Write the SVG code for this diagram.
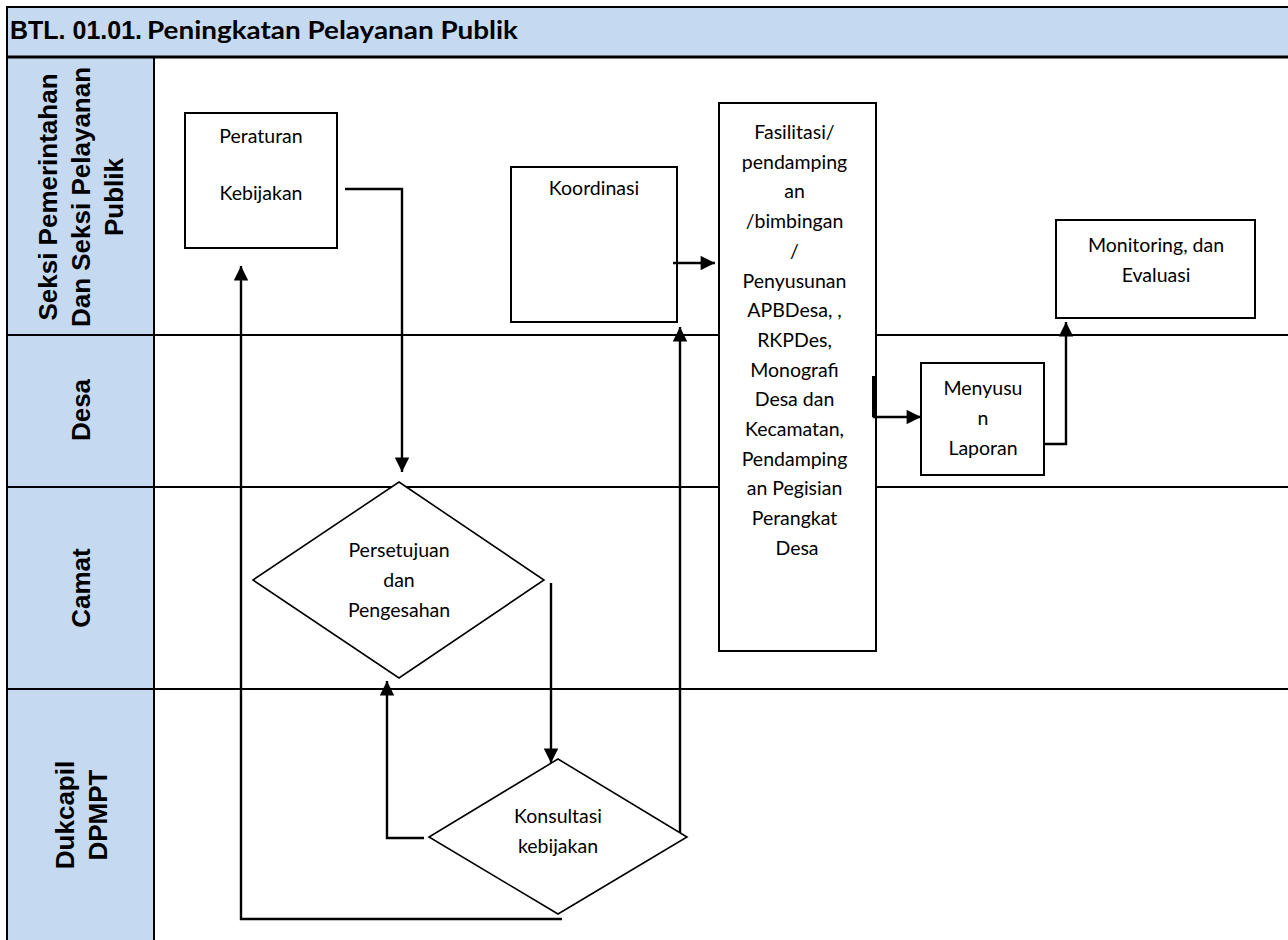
<svg xmlns="http://www.w3.org/2000/svg" width="1288" height="940" viewBox="0 0 1288 940">
<style>
.lane{font-family:"Liberation Sans",Arial,sans-serif;font-weight:bold;font-size:26px;fill:#000;text-anchor:middle}
.node{font-family:Lato,"Liberation Sans",sans-serif;font-size:19.5px;fill:#000;text-anchor:middle}
.box{fill:#fff;stroke:#000;stroke-width:2}
.dia{fill:#fff;stroke:#000;stroke-width:1.6}
.grid{stroke:#000;stroke-width:2;fill:none}
.conn{fill:none;stroke:#000;stroke-width:2.4}
</style>
<defs>
<marker id="arr" viewBox="0 0 10 10" refX="10" refY="5" markerWidth="6.5" markerHeight="6" markerUnits="strokeWidth" orient="auto">
<path d="M0,0 L10,5 L0,10 Z" fill="#000"/>
</marker>
</defs>
<rect x="0" y="0" width="1288" height="940" fill="#fff"/>
<g id="frame">
<rect x="7" y="7" width="1281" height="50" fill="#c5d9f0"/>
<rect x="7" y="57" width="147" height="883" fill="#c5d9f0"/>
<line class="grid" x1="6" y1="7" x2="1288" y2="7"/>
<line x1="6" y1="57" x2="1288" y2="57" stroke="#000" stroke-width="3"/>
<line class="grid" x1="7" y1="6" x2="7" y2="940"/>
<line class="grid" x1="154" y1="57" x2="154" y2="940"/>
<line class="grid" x1="7" y1="335" x2="1288" y2="335"/>
<line class="grid" x1="7" y1="487" x2="1288" y2="487"/>
<line class="grid" x1="7" y1="689" x2="1288" y2="689"/>
<text y="39" font-weight="bold"><tspan x="10" font-family="Liberation Sans, Arial, sans-serif" font-size="25px">BTL. 01.01.</tspan><tspan x="147" font-family="Lato, Liberation Sans, sans-serif" font-size="25px" textLength="371" lengthAdjust="spacingAndGlyphs">Peningkatan Pelayanan Publik</tspan></text>
</g>
<g id="lane-seksi">
<text class="lane" transform="translate(81,197) rotate(-90)"><tspan x="0" y="-24">Seksi Pemerintahan</tspan><tspan x="0" y="9">Dan Seksi Pelayanan</tspan><tspan x="0" y="42">Publik</tspan></text>
</g>
<g id="lane-desa">
<text class="lane" transform="translate(81,410) rotate(-90)"><tspan x="0" y="9">Desa</tspan></text>
</g>
<g id="lane-camat">
<text class="lane" transform="translate(81,588) rotate(-90)"><tspan x="0" y="9">Camat</tspan></text>
</g>
<g id="lane-dukcapil">
<text class="lane" transform="translate(81,815) rotate(-90)"><tspan x="0" y="-7">Dukcapil</tspan><tspan x="0" y="26">DPMPT</tspan></text>
</g>
<g id="peraturan">
<rect class="box" x="185" y="113" width="152" height="135"/>
<text class="node"><tspan x="261" y="143">Peraturan</tspan><tspan x="261" y="200">Kebijakan</tspan></text>
</g>
<g id="koordinasi">
<rect class="box" x="511" y="167" width="166" height="155"/>
<text class="node" x="594" y="195">Koordinasi</text>
</g>
<g id="fasilitasi">
<rect class="box" x="719" y="103" width="157" height="548"/>
<text class="node">
<tspan x="797" y="139">Fasilitasi/</tspan>
<tspan x="797" y="168.7">pendamping</tspan>
<tspan x="797" y="198.4">an</tspan>
<tspan x="797" y="228.1">/bimbingan</tspan>
<tspan x="797" y="257.8">/</tspan>
<tspan x="797" y="287.5">Penyusunan</tspan>
<tspan x="797" y="317.2">APBDesa, ,</tspan>
<tspan x="797" y="346.9">RKPDes,</tspan>
<tspan x="797" y="376.6">Monografi</tspan>
<tspan x="797" y="406.3">Desa dan</tspan>
<tspan x="797" y="436">Kecamatan,</tspan>
<tspan x="797" y="465.7">Pendamping</tspan>
<tspan x="797" y="495.4">an Pegisian</tspan>
<tspan x="797" y="525.1">Perangkat</tspan>
<tspan x="797" y="554.8">Desa</tspan>
</text>
</g>
<g id="menyusun">
<rect class="box" x="921" y="363" width="123" height="112"/>
<text class="node"><tspan x="983" y="395">Menyusu</tspan><tspan x="983" y="425">n</tspan><tspan x="983" y="455">Laporan</tspan></text>
</g>
<g id="monitoring">
<rect class="box" x="1056" y="220" width="199" height="98"/>
<text class="node"><tspan x="1156" y="252">Monitoring, dan</tspan><tspan x="1156" y="282">Evaluasi</tspan></text>
</g>
<g id="persetujuan">
<polygon class="dia" points="399,482 544,580 399,678 253,580"/>
<text class="node"><tspan x="399" y="557">Persetujuan</tspan><tspan x="399" y="587">dan</tspan><tspan x="399" y="617">Pengesahan</tspan></text>
</g>
<g id="konsultasi">
<polygon class="dia" points="558,759 687,837 558,914 429,837"/>
<text class="node"><tspan x="558" y="823">Konsultasi</tspan><tspan x="558" y="853">kebijakan</tspan></text>
</g>
<g id="connectors">
<path class="conn" d="M345,189 H402 V472" marker-end="url(#arr)"/>
<path class="conn" d="M673,263 H715" marker-end="url(#arr)"/>
<path class="conn" d="M874,376 V417 H921" marker-end="url(#arr)"/>
<path class="conn" d="M1043,444 H1066 V322" marker-end="url(#arr)"/>
<path class="conn" d="M551,583 V763" marker-end="url(#arr)"/>
<path class="conn" d="M424,838 H387 V681" marker-end="url(#arr)"/>
<path class="conn" d="M680,833 V327" marker-end="url(#arr)"/>
<path class="conn" d="M562,919 H241 V266" marker-end="url(#arr)"/>
<line x1="874" y1="376" x2="874" y2="417" stroke="#000" stroke-width="4"/>
</g>
</svg>
